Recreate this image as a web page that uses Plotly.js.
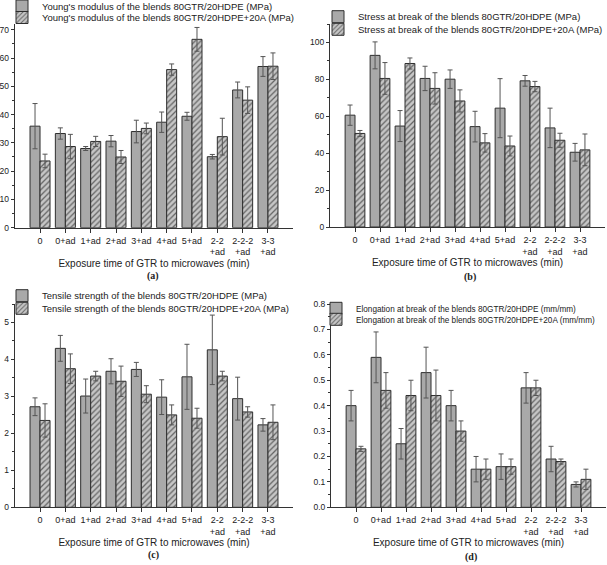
<!DOCTYPE html>
<html><head><meta charset="utf-8">
<script src="https://cdn.plot.ly/plotly-3.0.1.min.js"></script>
<style>html,body{margin:0;padding:0;background:#fff}</style>
</head><body><div id="chart" style="width:607px;height:565px"></div>
<script>
const categories = ['0','0+ad','1+ad','2+ad','3+ad','4+ad','5+ad','2-2<br>+ad','2-2-2<br>+ad','3-3<br>+ad'];

const youngBase    = [35.9, 33.3, 28.0, 30.6, 34.0, 37.3, 39.4, 25.1, 48.7, 57.0];
const youngBaseErr = [8.0, 2.0, 0.7, 2.0, 4.0, 3.6, 1.4, 0.8, 2.8, 3.5];
const youngClay    = [23.6, 28.7, 30.5, 25.0, 35.1, 55.9, 66.6, 32.2, 45.1, 57.1];
const youngClayErr = [2.4, 4.3, 1.8, 2.3, 1.9, 2.0, 4.2, 6.5, 4.7, 4.7];

const stressBase    = [60.6, 93.0, 54.7, 80.5, 80.1, 54.4, 64.4, 79.2, 53.7, 40.5];
const stressBaseErr = [5.5, 7.3, 8.4, 6.6, 5.0, 8.3, 16.0, 2.9, 10.7, 4.8];
const stressClay    = [50.7, 80.5, 88.6, 75.1, 68.3, 45.6, 43.9, 76.1, 47.0, 41.8];
const stressClayErr = [1.6, 8.6, 3.0, 8.5, 6.0, 5.0, 5.4, 2.8, 3.8, 8.6];

const tensileBase    = [2.72, 4.30, 3.01, 3.68, 3.73, 2.98, 3.53, 4.26, 2.94, 2.23];
const tensileBaseErr = [0.24, 0.35, 0.46, 0.34, 0.19, 0.47, 0.88, 0.94, 0.58, 0.17];
const tensileClay    = [2.35, 3.75, 3.55, 3.41, 3.06, 2.50, 2.41, 3.55, 2.58, 2.30];
const tensileClayErr = [0.45, 0.40, 0.13, 0.41, 0.23, 0.27, 0.27, 0.13, 0.14, 0.47];

const elongBase    = [0.40, 0.59, 0.25, 0.53, 0.40, 0.15, 0.16, 0.47, 0.19, 0.09];
const elongBaseErr = [0.06, 0.10, 0.06, 0.10, 0.06, 0.05, 0.05, 0.06, 0.05, 0.01];
const elongClay    = [0.23, 0.46, 0.44, 0.44, 0.30, 0.15, 0.16, 0.47, 0.18, 0.11];
const elongClayErr = [0.01, 0.07, 0.06, 0.10, 0.04, 0.04, 0.03, 0.03, 0.01, 0.04];

const seriesNames = [
  ["Young's modulus of the blends 80GTR/20HDPE (MPa)", "Young's modulus of the blends 80GTR/20HDPE+20A (MPa)"],
  ["Stress at break of the blends 80GTR/20HDPE (MPa)", "Stress at break of the blends 80GTR/20HDPE+20A (MPa)"],
  ["Tensile strength of the blends 80GTR/20HDPE (MPa)", "Tensile strength of the blends 80GTR/20HDPE+20A (MPa)"],
  ["Elongation at break of the blends 80GTR/20HDPE (mm/mm)", "Elongation at break of the blends 80GTR/20HDPE+20A (mm/mm)"]
];
const panelLabels = ['(a)', '(b)', '(c)', '(d)'];
const xTitle = 'Exposure time of GTR to microwaves (min)';

const W = 607, H = 565;
const FONT = 'Liberation Sans, Arial, sans-serif';
const panels = [
  {base: youngBase, baseErr: youngBaseErr, clay: youngClay, clayErr: youngClayErr,
   x0: 14.7, x1: 293.3, yb: 227.7, yt: 23.5, range: [0, 72.2], dtick: 10, minor: 5,
   leg: [6, 17.5], legX: 42, legFont: 9.5, lab: [153, 276]},
  {base: stressBase, baseErr: stressBaseErr, clay: stressClay, clayErr: stressClayErr,
   x0: 330, x1: 605, yb: 227, yt: 24, range: [0, 110], dtick: 20, minor: 10,
   leg: [16.7, 29.3], legX: 358, legFont: 9.5, lab: [470, 277]},
  {base: tensileBase, baseErr: tensileBaseErr, clay: tensileClay, clayErr: tensileClayErr,
   x0: 14.7, x1: 293.3, yb: 507.3, yt: 304, range: [0, 5.5], dtick: 1, minor: 0.5,
   leg: [295.7, 308.3], legX: 42, legFont: 9.5, lab: [153, 555]},
  {base: elongBase, baseErr: elongBaseErr, clay: elongClay, clayErr: elongClayErr,
   x0: 331, x1: 606, yb: 507.3, yt: 304, range: [0, 0.8], dtick: 0.1, minor: 0.05,
   leg: [308.3, 319.3], legX: 356, legFont: 8.2, lab: [471, 557]}
];

const traces = [];
const layout = {
  width: W, height: H,
  margin: {l: 0, r: 0, t: 0, b: 0, autoexpand: false},
  paper_bgcolor: '#ffffff', plot_bgcolor: 'rgba(0,0,0,0)',
  barmode: 'group', bargap: 0.21, bargroupgap: 0,
  font: {family: FONT, size: 9, color: '#222'},
  annotations: [], showlegend: true
};

panels.forEach((p, i) => {
  const n = i + 1;
  const xa = n === 1 ? 'x' : 'x' + n;
  const ya = n === 1 ? 'y' : 'y' + n;
  const legA = 'legend' + (2 * i === 0 ? '' : (2 * i + 1));
  const legB = 'legend' + (2 * i + 2);
  traces.push({
    type: 'bar', x: categories, y: p.base, name: seriesNames[i][0],
    xaxis: xa, yaxis: ya, legend: legA,
    marker: {color: '#a9a9a9', line: {color: '#2e2e2e', width: 1}},
    error_y: {type: 'data', array: p.baseErr, visible: true, color: '#555', thickness: 1, width: 2.5}
  });
  traces.push({
    type: 'bar', x: categories, y: p.clay, name: seriesNames[i][1],
    xaxis: xa, yaxis: ya, legend: legB,
    marker: {color: '#c4c4c4', line: {color: '#2e2e2e', width: 1},
             pattern: {shape: '/', bgcolor: '#c6c6c6', fgcolor: '#666', size: 4, solidity: 0.32}},
    error_y: {type: 'data', array: p.clayErr, visible: true, color: '#555', thickness: 1, width: 2.5}
  });
  const xKey = n === 1 ? 'xaxis' : 'xaxis' + n;
  const yKey = n === 1 ? 'yaxis' : 'yaxis' + n;
  layout[xKey] = {
    domain: [p.x0 / W, p.x1 / W], anchor: ya, type: 'category', range: [-1, 10],
    showline: true, linecolor: '#333', linewidth: 1, ticks: 'outside', ticklen: 4,
    tickcolor: '#333', showgrid: false, zeroline: false, fixedrange: true,
    tickfont: {size: 9, family: FONT, color: '#222'},
    title: {text: xTitle, standoff: 3, font: {size: 10, family: FONT, color: '#222'}}
  };
  layout[yKey] = {
    domain: [1 - p.yb / H, 1 - p.yt / H], anchor: xa, range: p.range, dtick: p.dtick,
    showline: true, linecolor: '#333', linewidth: 1, ticks: 'outside', ticklen: 3,
    tickcolor: '#333', showgrid: false, zeroline: false, fixedrange: true,
    tickfont: {size: 8.5, family: FONT, color: '#222'},
    tickformat: i === 3 ? '.1f' : '',
    minor: {dtick: p.minor, ticks: 'outside', ticklen: 2, tickcolor: '#333', showgrid: false}
  };
  [legA, legB].forEach((lg, k) => {
    layout[lg] = {
      x: (p.legX - 40) / W, xanchor: 'left', y: 1 - p.leg[k] / H, yanchor: 'middle',
      bgcolor: 'rgba(0,0,0,0)', borderwidth: 0, font: {size: p.legFont, family: FONT, color: '#222'},
      itemclick: false, itemdoubleclick: false
    };
  });
  layout.annotations.push({
    xref: 'paper', yref: 'paper', x: p.lab[0] / W, y: 1 - p.lab[1] / H,
    xanchor: 'center', yanchor: 'middle', showarrow: false,
    text: '<b>' + panelLabels[i] + '</b>',
    font: {family: 'Liberation Serif, Times New Roman, serif', size: 10, color: '#222'}
  });
});

Plotly.newPlot('chart', traces, layout, {displayModeBar: false, staticPlot: true});
</script>
</body></html>
